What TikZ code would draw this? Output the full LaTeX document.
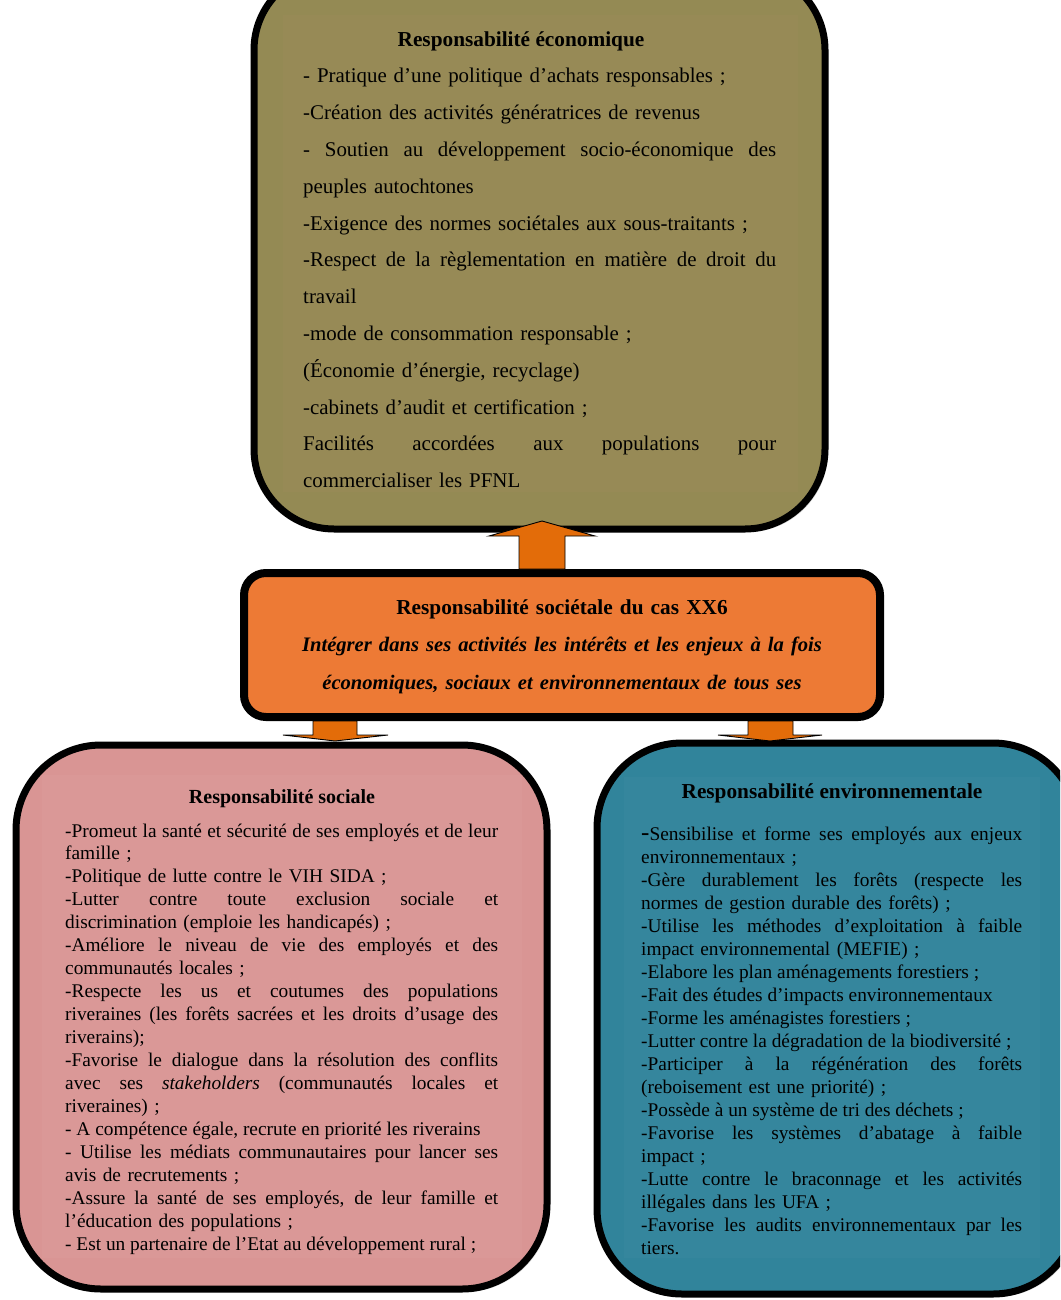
\documentclass[tikz,border=0pt]{standalone}
\usepackage{fontspec}
\setmainfont{Liberation Serif}
\usetikzlibrary{shadows}
\definecolor{olivebox}{HTML}{948A54}
\definecolor{olivetext}{HTML}{978A56}
\definecolor{orangebox}{HTML}{ED7A35}
\definecolor{arroworange}{HTML}{E36C09}
\definecolor{pinkbox}{HTML}{D99594}
\definecolor{tealbox}{HTML}{31849B}
\newlength\jw
\newcommand\jline[1]{\makebox[\jw][s]{\spaceskip=.25em plus 3em minus .1em\relax #1}\\}
\newcommand\nline[1]{\makebox[\jw][s]{\spaceskip=.25em plus 0em minus .1em\relax #1\hfil}\\}
\begin{document}
\begin{tikzpicture}[x=1pt,y=-1pt,
  panel/.style={draw=black, rectangle, inner sep=0pt, outer sep=0pt,
    drop shadow={opacity=0.3, shadow xshift=3pt, shadow yshift=-3pt}},
  blockarrow/.style={fill=arroworange, draw=black, line width=0.9pt, line join=miter},
  bodytext/.style={anchor=base west, inner sep=0pt, align=left, text width=#1},
  titletext/.style={anchor=base, inner sep=0pt, font=\bfseries\fontsize{#1}{25}\selectfont},
]
\useasboundingbox (0,0) rectangle (1060,1300);
\clip (0,0) rectangle (1060,1300);

% boxes
\node[panel, fill=olivebox, line width=7pt, rounded corners=80pt,
  minimum width=571pt, minimum height=559pt] (eco) at (539.5,249.5) {};
\node[panel, fill=pinkbox, line width=7pt, rounded corners=85pt,
  minimum width=531pt, minimum height=544pt] (soc) at (281.5,1017) {};
\node[panel, fill=tealbox, line width=7pt, rounded corners=85pt,
  minimum width=481pt, minimum height=551pt] (env) at (837.5,1018.5) {};

% faint text frames inside the boxes
\fill[olivetext] (283,15) rectangle (798,492);
\fill[pinkbox!97!white] (42,775) rectangle (522,1258);
\fill[tealbox!98!white] (624,777) rectangle (1040,1258);

\node[panel, fill=orangebox, line width=8pt, rounded corners=22pt,
  minimum width=636pt, minimum height=144pt] (cen) at (562,645) {};

% block arrows
\draw[blockarrow]
  ([xshift=-43pt,yshift=4pt]cen.north) -- ([xshift=-43pt,yshift=37pt]cen.north)
  -- ([xshift=-73pt,yshift=37pt]cen.north) -- ([xshift=-20pt,yshift=52pt]cen.north)
  -- ([xshift=33pt,yshift=37pt]cen.north) -- ([xshift=3pt,yshift=37pt]cen.north)
  -- ([xshift=3pt,yshift=4pt]cen.north) -- cycle;
\draw[blockarrow]
  ([xshift=69pt,yshift=-4pt]cen.south west) -- ([xshift=69pt,yshift=-18pt]cen.south west)
  -- ([xshift=39pt,yshift=-18pt]cen.south west) -- ([xshift=91pt,yshift=-24pt]cen.south west)
  -- ([xshift=144pt,yshift=-18pt]cen.south west) -- ([xshift=113pt,yshift=-18pt]cen.south west)
  -- ([xshift=113pt,yshift=-4pt]cen.south west) -- cycle;
\draw[blockarrow]
  ([xshift=-132pt,yshift=-4pt]cen.south east) -- ([xshift=-132pt,yshift=-18pt]cen.south east)
  -- ([xshift=-162pt,yshift=-18pt]cen.south east) -- ([xshift=-110pt,yshift=-24pt]cen.south east)
  -- ([xshift=-58pt,yshift=-18pt]cen.south east) -- ([xshift=-87pt,yshift=-18pt]cen.south east)
  -- ([xshift=-87pt,yshift=-4pt]cen.south east) -- cycle;

% economic
\node[titletext=21.3] (ecotitle) at (521,47) {Responsabilité économique};
\node[bodytext=473pt, font=\fontsize{20.9}{36.8}\selectfont] (ecotxt) at (303,83) {%
\setlength\jw{473pt}%
- Pratique d'une politique d'achats responsables ;\\
-Création des activités génératrices de revenus\\
\jline{- Soutien au développement socio-économique des}
peuples autochtones\\
-Exigence des normes sociétales aux sous-traitants ;\\
\jline{-Respect de la règlementation en matière de droit du}
travail\\
-mode de consommation responsable ;\\
(Économie d'énergie, recyclage)\\
-cabinets d'audit et certification ;\\
\jline{Facilités accordées aux populations pour}
commercialiser les PFNL};

% central
\node[anchor=base, inner sep=0pt, text width=640pt, align=center,
  font=\bfseries\fontsize{21.3}{37.5}\selectfont] (centxt) at (562,614) {%
Responsabilité sociétale du cas XX6\\
{\itshape\fontsize{20.6}{37.5}\selectfont Intégrer dans ses activités les intérêts et les enjeux à la fois}\\
{\itshape\fontsize{20.6}{37.5}\selectfont économiques, sociaux et environnementaux de tous ses}};

% social
\node[titletext=20] (soctitle) at (282,803) {Responsabilité sociale};
\node[bodytext=433pt, font=\fontsize{19.35}{22.95}\selectfont] (soctxt) at (65,837) {%
\setlength\jw{433pt}%
\jline{-Promeut la santé et sécurité de ses employés et de leur}
famille ;\\
-Politique de lutte contre le VIH SIDA ;\\
\jline{-Lutter contre toute exclusion sociale et}
discrimination (emploie les handicapés) ;\\
\jline{-Améliore le niveau de vie des employés et des}
communautés locales ;\\
\jline{-Respecte les us et coutumes des populations}
\jline{riveraines (les forêts sacrées et les droits d'usage des}
riverains);\\
\jline{-Favorise le dialogue dans la résolution des conflits}
\jline{avec ses \textit{stakeholders} (communautés locales et}
riveraines) ;\\
\nline{- A compétence égale, recrute en priorité les riverains}
\jline{- Utilise les médiats communautaires pour lancer ses}
avis de recrutements ;\\
\jline{-Assure la santé de ses employés, de leur famille et}
l'éducation des populations ;\\
\nline{- Est un partenaire de l'Etat au développement rural ;}};

% environmental
\node[titletext=21.3] (envtitle) at (832,798) {Responsabilité environnementale};
\node[bodytext=381pt, font=\fontsize{19.35}{23.05}\selectfont] (envtxt) at (641,840) {%
\setlength\jw{381pt}%
\jline{{\fontsize{25}{23}\selectfont -}Sensibilise et forme ses employés aux enjeux}
environnementaux ;\\
\jline{-Gère durablement les forêts (respecte les}
normes de gestion durable des forêts) ;\\
\jline{-Utilise les méthodes d'exploitation à faible}
impact environnemental (MEFIE) ;\\
\nline{-Elabore les plan aménagements forestiers ;}
\nline{-Fait des études d'impacts environnementaux}
\nline{-Forme les aménagistes forestiers ;}
\nline{-Lutter contre la dégradation de la biodiversité ;}
\jline{-Participer à la régénération des forêts}
(reboisement est une priorité) ;\\
\nline{-Possède à un système de tri des déchets ;}
\jline{-Favorise les systèmes d'abatage à faible}
impact ;\\
\jline{-Lutte contre le braconnage et les activités}
illégales dans les UFA ;\\
\jline{-Favorise les audits environnementaux par les}
tiers.};
\end{tikzpicture}
\end{document}
